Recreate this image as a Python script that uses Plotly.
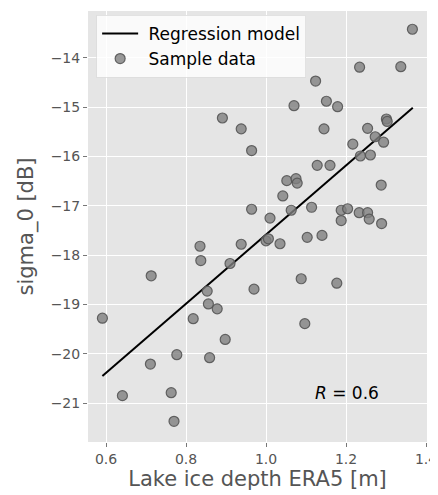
import plotly.graph_objects as go

depth = [0.891, 0.938, 0.964, 1.366, 1.234, 1.337, 1.124, 1.070, 1.151, 1.179,
         1.301, 1.303, 1.145, 1.254, 1.273, 1.294, 1.217, 1.236, 1.261, 1.128,
         1.160, 0.964, 0.835, 0.938, 0.837, 0.910, 0.713, 0.970, 0.853, 0.856,
         0.878, 0.591, 0.818, 1.052, 1.075, 1.078, 1.288, 1.042, 1.063, 1.114,
         1.188, 1.204, 1.010, 1.188, 1.233, 1.254, 1.258, 1.289, 1.000, 1.006,
         1.035, 1.103, 1.140, 1.088, 1.177, 1.097, 0.898, 0.777, 0.859, 0.711,
         0.641, 0.763, 0.770]
sigma0 = [-15.22, -15.44, -15.88, -13.42, -14.19, -14.18, -14.47, -14.97, -14.88, -14.99,
          -15.24, -15.29, -15.44, -15.43, -15.60, -15.71, -15.75, -15.99, -15.97, -16.18,
          -16.18, -17.07, -17.82, -17.78, -18.11, -18.17, -18.42, -18.69, -18.73, -18.99,
          -19.09, -19.28, -19.29, -16.49, -16.45, -16.54, -16.58, -16.80, -17.09, -17.03,
          -17.09, -17.06, -17.25, -17.30, -17.14, -17.14, -17.27, -17.36, -17.71, -17.67,
          -17.77, -17.64, -17.60, -18.48, -18.57, -19.39, -19.71, -20.02, -20.08, -20.21,
          -20.85, -20.79, -21.37]

reg_x = [0.591, 1.367]
reg_y = [-20.45, -15.01]

x_ticks = [0.6, 0.8, 1.0, 1.2, 1.4]
y_ticks = [-14, -15, -16, -17, -18, -19, -20, -21]

NB = "\u00a0"

fig = go.Figure()
fig.add_trace(go.Scatter(x=reg_x, y=reg_y, mode="lines", name=NB + "Regression model",
                         line=dict(color="black", width=2)))
fig.add_trace(go.Scatter(x=depth, y=sigma0, mode="markers", name=NB + "Sample data",
                         marker=dict(size=10, color="rgba(128,128,128,0.8)",
                                     line=dict(color="rgba(85,85,85,0.9)", width=1.2))))

fig.add_annotation(x=1.2025, y=-20.79, text="<i>R</i> = 0.6", showarrow=False,
                   font=dict(size=17, color="black", family="DejaVu Sans"))

axis_common = dict(showgrid=True, gridcolor="white", gridwidth=1.2, zeroline=False,
                   ticks="outside", ticklen=4, tickcolor="#777", showline=False,
                   automargin=False,
                   tickfont=dict(size=14, color="#555", family="DejaVu Sans"))

# the page adds an 8px body margin; margins below compensate for it
fig.update_layout(
    width=438, height=495,
    margin=dict(l=80, r=19, t=3, b=61),
    paper_bgcolor="white", plot_bgcolor="#e5e5e5",
    font=dict(family="DejaVu Sans"),
    xaxis=dict(range=[0.555, 1.4025], tickvals=x_ticks, ticktext=[f"{v:.1f}" for v in x_ticks],
               title=dict(text="Lake ice depth ERA5 [m]", font=dict(size=21, color="#555"), standoff=4),
               **axis_common),
    yaxis=dict(range=[-21.79, -13.05], tickvals=y_ticks,
               title=dict(text="sigma_0 [dB]", font=dict(size=21, color="#555"), standoff=11),
               **axis_common),
    legend=dict(x=0.024, y=0.991, xanchor="left", yanchor="top", itemwidth=36,
                bgcolor="rgba(255,255,255,0.8)", bordercolor="rgba(220,220,220,0.8)", borderwidth=1,
                font=dict(size=17, color="black", family="DejaVu Sans")),
    showlegend=True,
)

fig.write_html("out.html")
